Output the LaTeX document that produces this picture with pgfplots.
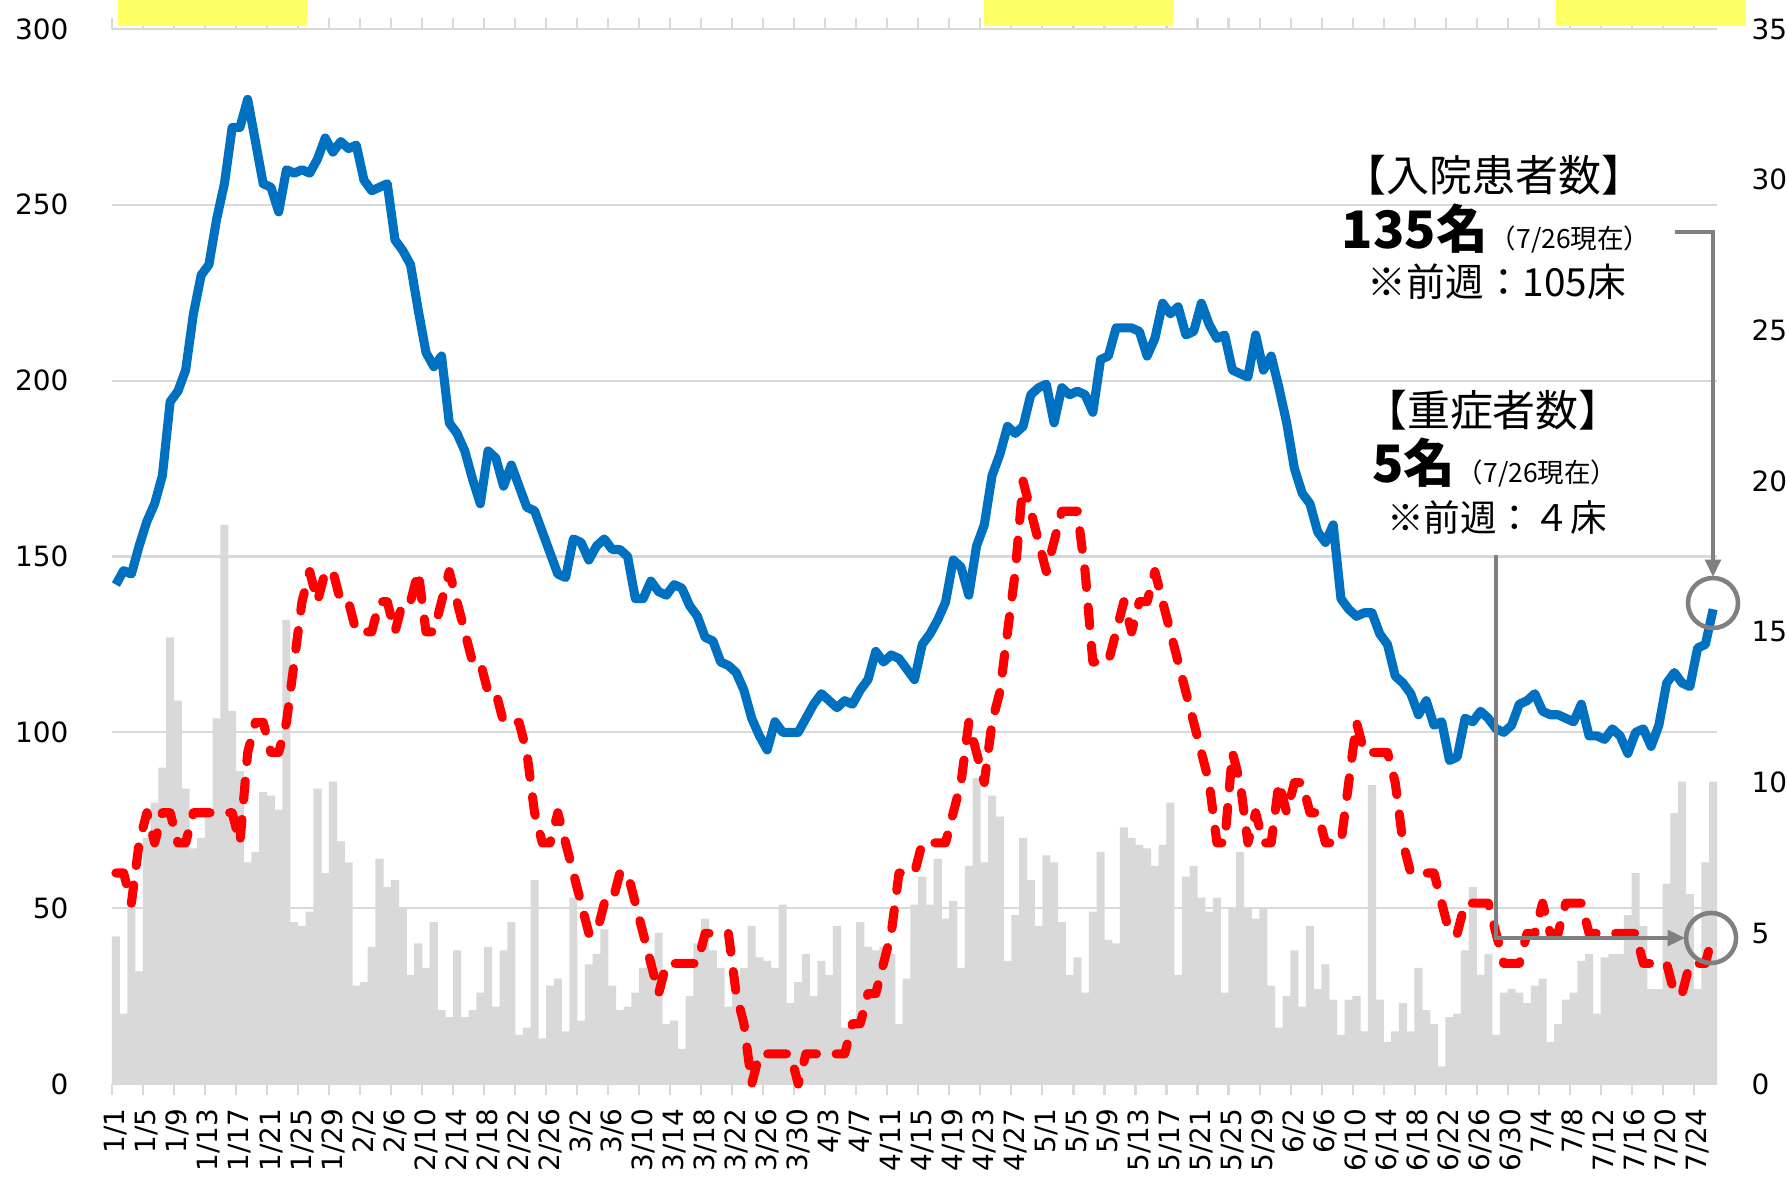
\documentclass[border=0pt]{standalone}
\usepackage{fontspec}
\setmainfont{DejaVu Sans}
\newfontfamily\jp{Noto Sans CJK JP}
\usepackage{pgfplots}
\usepackage{pgfplotstable}
\pgfplotsset{compat=1.18}
\usetikzlibrary{arrows.meta}

\definecolor{bargray}{HTML}{D9D9D9}
\definecolor{blueline}{HTML}{0070C0}
\definecolor{arrowgray}{HTML}{808080}
\definecolor{boxyellow}{HTML}{FFFF66}

% d = day index from 1/1, bars = new cases, blue = inpatients, red = severe
\pgfplotstableread{
d bars blue red
0 42 142 7
1 20 146 7
2 52 145 6
3 32 153 8
4 70 160 9
5 80 165 8
6 90 173 9
7 127 194 9
8 109 197 8
9 84 203 8
10 67 219 9
11 70 230 9
12 77 233 9
13 104 246 9
14 159 256 9
15 106 272 9
16 89 272 8
17 63 280 11
18 66 268 12
19 83 256 12
20 82 255 11
21 78 248 11
22 132 260 12
23 46 259 14
24 45 260 16
25 49 259 17
26 84 263 16
27 60 269 17
28 86 265 17
29 69 268 16
30 63 266 16
31 28 267 15
32 29 257 15
33 39 254 15
34 64 255 16
35 56 256 16
36 58 240 15
37 50 237 16
38 31 233 16
39 40 220 17
40 33 208 15
41 46 204 15
42 21 207 16
43 19 188 17
44 38 185 16
45 19 180 15
46 21 172 14
47 26 165 14
48 39 180 13
49 22 178 13
50 38 170 12
51 46 176 12
52 14 170 12
53 16 164 11
54 58 163 9
55 13 157 8
56 28 151 8
57 30 145 9
58 15 144 8
59 53 155 7
60 18 154 6
61 34 149 5
62 37 153 5
63 44 155 6
64 28 152 6
65 21 152 7
66 22 150 7
67 26 138 6
68 33 138 5
69 36 143 4
70 43 140 3
71 17 139 4
72 18 142 4
73 10 141 4
74 25 136 4
75 40 133 4
76 47 127 5
77 38 126 5
78 33 120 5
79 22 119 5
80 28 117 3
81 33 112 2
82 45 104 0
83 36 99 1
84 35 95 1
85 33 103 1
86 51 100 1
87 23 100 1
88 29 100 0
89 37 104 1
90 25 108 1
91 35 111 1
92 31 109 1
93 45 107 1
94 16 109 1
95 16 108 2
96 46 112 2
97 39 115 3
98 38 123 3
99 39 120 4
100 37 122 5
101 17 121 7
102 30 118 7
103 51 115 7
104 59 125 8
105 51 128 8
106 64 132 8
107 47 137 8
108 52 149 9
109 33 147 10
110 62 139 12
111 87 153 11
112 63 159 10
113 82 173 12
114 76 179 13
115 35 187 15
116 48 185 17
117 70 187 20
118 58 196 19
119 45 198 18
120 65 199 17
121 63 188 18
122 46 198 19
123 31 196 19
124 36 197 19
125 26 196 17
126 49 191 14
127 66 206 14
128 41 207 14
129 40 215 15
130 73 215 16
131 70 215 15
132 68 214 16
133 67 207 16
134 62 212 17
135 68 222 16
136 80 219 15
137 31 221 14
138 59 213 13
139 62 214 12
140 53 222 11
141 49 216 10
142 53 212 8
143 26 213 8
144 50 203 11
145 66 202 10
146 50 201 8
147 47 213 9
148 50 203 8
149 28 207 8
150 16 198 10
151 25 188 9
152 38 175 10
153 22 168 10
154 45 165 9
155 27 157 9
156 34 154 8
157 24 159 8
158 14 138 8
159 24 135 10
160 25 133 12
161 15 134 11
162 85 134 11
163 24 128 11
164 12 125 11
165 15 116 10
166 23 114 8
167 15 111 7
168 33 105 7
169 21 109 7
170 17 102 7
171 5 103 6
172 19 92 5
173 20 93 5
174 38 104 6
175 56 103 6
176 31 106 6
177 37 104 6
178 14 101 5
179 26 100 4
180 27 102 4
181 26 108 4
182 23 109 5
183 28 111 5
184 30 106 6
185 12 105 5
186 17 105 5
187 24 104 6
188 26 103 6
189 35 108 6
190 37 99 5
191 20 99 5
192 36 98 5
193 37 101 5
194 37 99 5
195 48 94 5
196 60 100 5
197 45 101 4
198 27 96 4
199 27 102 4
200 57 114 4
201 77 117 3
202 86 114 3
203 54 113 4
204 27 124 4
205 63 125 4
206 86 135 5
}\data

\begin{document}
\begin{tikzpicture}
\pgfplotsset{common/.style={
  scale only axis, width=16.167cm, height=10.627cm,
  xmin=-0.5, xmax=206.5, enlargelimits=false, clip=false,
  axis line style={draw=none},
  major tick length=0pt,
  /pgf/number format/assume math mode=true,
  tick label style={font=\fontsize{8}{9.6}\selectfont},
}}
\begin{axis}[common,
  ymin=0, ymax=300, ytick={0,50,...,300},
  ymajorgrids, grid style={bargray, line width=0.6pt},
  yticklabel style={anchor=east, inner sep=0pt},
  yticklabel shift=12.3pt,
  xtick={0,4,...,204},
  xticklabels={1/1,1/5,1/9,1/13,1/17,1/21,1/25,1/29,2/2,2/6,2/10,2/14,2/18,2/22,2/26,3/2,3/6,3/10,3/14,3/18,3/22,3/26,3/30,4/3,4/7,4/11,4/15,4/19,4/23,4/27,5/1,5/5,5/9,5/13,5/17,5/21,5/25,5/29,6/2,6/6,6/10,6/14,6/18,6/22,6/26,6/30,7/4,7/8,7/12,7/16,7/20,7/24},
  xticklabel style={rotate=90, anchor=east, inner sep=0pt},
  xticklabel shift=6.9pt,
  extra x ticks={-0.5,3.5,...,203.5},
  extra x tick labels={},
  extra x tick style={grid=none, tick align=outside, major tick length=3.2pt,
    tick style={draw=bargray, line width=0.6pt}},
]
\addplot[ybar, bar width=1.04, bar shift=0pt, fill=bargray, draw=none] table[x=d, y=bars]{\data};
\addplot[blueline, line width=2.6pt, line join=round, mark=none] table[x=d, y=blue]{\data};
\end{axis}

\begin{axis}[common,
  ymin=0, ymax=35, ytick={0,5,...,35},
  axis y line*=right, hide x axis,
  yticklabel style={anchor=west, inner sep=0pt},
  yticklabel shift=9.7pt,
]
\addplot[red, line width=2.6pt, dash pattern=on 5.4pt off 5.6pt, line cap=round, line join=round, mark=none] table[x=d, y=red]{\data};

% yellow boxes cut by the top edge
\fill[boxyellow] (rel axis cs:0.0037,1.0028) rectangle (rel axis cs:0.1215,1.04);
\fill[boxyellow] (rel axis cs:0.5433,1.0028) rectangle (rel axis cs:0.6611,1.04);
\fill[boxyellow] (rel axis cs:0.8997,1.0028) rectangle (rel axis cs:1.0181,1.04);

% annotations
\node[font=\jp\fontsize{12.3}{14}\selectfont] at (rel axis cs:0.8611,0.8616) {【入院患者数】};
\node[anchor=base east, inner sep=0pt, font=\jp\bfseries\fontsize{14.8}{17}\selectfont] at (rel axis cs:0.8577,0.7924) {135名};
\node[anchor=base west, inner sep=0pt, font=\jp\fontsize{7.6}{9}\selectfont] at (rel axis cs:0.8580,0.7924) {（7/26現在）};
\node[font=\jp\fontsize{11.1}{13}\selectfont] at (rel axis cs:0.8629,0.7602) {※前週：105床};

\node[font=\jp\fontsize{12.3}{14}\selectfont] at (rel axis cs:0.8604,0.6389) {【重症者数】};
\node[anchor=base east, inner sep=0pt, font=\jp\bfseries\fontsize{14.8}{17}\selectfont] at (rel axis cs:0.8374,0.5697) {5名};
\node[anchor=base west, inner sep=0pt, font=\jp\fontsize{7.6}{9}\selectfont] at (rel axis cs:0.8375,0.5697) {（7/26現在）};
\node[font=\jp\fontsize{10.5}{12}\selectfont] at (rel axis cs:0.8629,0.5374) {※前週：４床};

\draw[arrowgray, line width=1pt, -{Triangle[length=5pt, width=4.5pt]}]
  (rel axis cs:0.9738,0.8076) -- (rel axis cs:0.9975,0.8076) -- (rel axis cs:0.9975,0.4806);
\draw[arrowgray, line width=1.3pt] (rel axis cs:0.9975,0.4559) circle[radius=0.252cm];
\draw[arrowgray, line width=1pt, -{Triangle[length=5pt, width=4.5pt]}]
  (rel axis cs:0.8623,0.5014) -- (rel axis cs:0.8623,0.1384) -- (rel axis cs:0.9801,0.1384);
\draw[arrowgray, line width=1.3pt] (rel axis cs:0.9963,0.1384) circle[radius=0.252cm];

\coordinate (BL) at (rel axis cs:-0.06978,-0.09289);
\coordinate (TR) at (rel axis cs:1.04361,1.02749);
\end{axis}
\pgfresetboundingbox
\path[use as bounding box] (BL) rectangle (TR);
\end{tikzpicture}
\end{document}
